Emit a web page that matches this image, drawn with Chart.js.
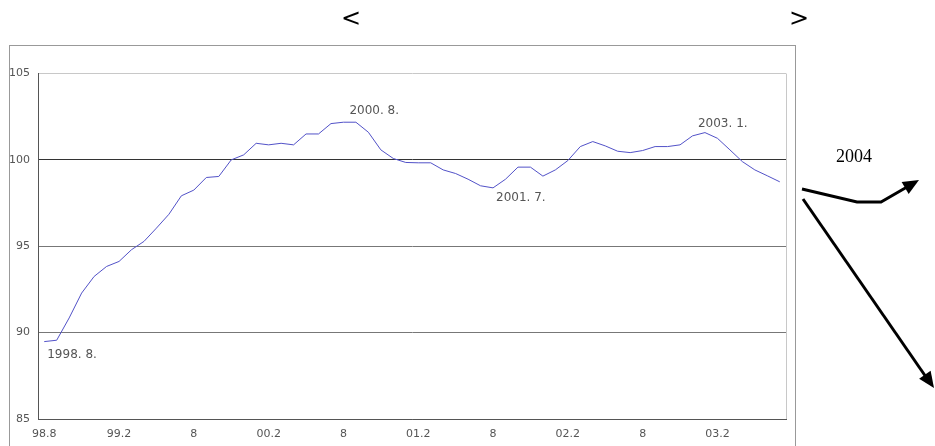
<!DOCTYPE html>
<html>
<head>
<meta charset="utf-8">
<script src="https://cdn.jsdelivr.net/npm/chart.js@4/dist/chart.umd.min.js"></script>
<style>
  html, body { margin: 0; padding: 0; background: #fff; }
  #wrap { width: 935px; height: 446px; position: relative; }
</style>
</head>
<body>
<div id="wrap"><canvas id="myChart"></canvas></div>
<script>
// monthly, 1998.8 - 2003.7
const months = [
  '1998.8','1998.9','1998.10','1998.11','1998.12',
  '1999.1','1999.2','1999.3','1999.4','1999.5','1999.6','1999.7','1999.8','1999.9','1999.10','1999.11','1999.12',
  '2000.1','2000.2','2000.3','2000.4','2000.5','2000.6','2000.7','2000.8','2000.9','2000.10','2000.11','2000.12',
  '2001.1','2001.2','2001.3','2001.4','2001.5','2001.6','2001.7','2001.8','2001.9','2001.10','2001.11','2001.12',
  '2002.1','2002.2','2002.3','2002.4','2002.5','2002.6','2002.7','2002.8','2002.9','2002.10','2002.11','2002.12',
  '2003.1','2003.2','2003.3','2003.4','2003.5','2003.6','2003.7'
];

const indexValues = [
  89.48, 89.56, 90.85, 92.29, 93.25,
  93.83, 94.12, 94.80, 95.28, 96.05, 96.85, 97.92, 98.25, 98.98, 99.04, 100.00, 100.29,
  100.96, 100.87, 100.96, 100.87, 101.50, 101.50, 102.10, 102.18, 102.18, 101.60, 100.58, 100.08,
  99.85, 99.83, 99.83, 99.42, 99.21, 98.88, 98.50, 98.38, 98.88, 99.58, 99.58, 99.06,
  99.42, 99.96, 100.77, 101.06, 100.81, 100.50, 100.42, 100.54, 100.77, 100.77, 100.87, 101.39,
  101.58, 101.25, 100.58, 99.90, 99.42, 99.08, 98.73
];

// x tick labels, one every 6 months
const xTickLabels = ['98.8', '99.2', '8', '00.2', '8', '01.2', '8', '02.2', '8', '03.2'];
const yTicks = [85, 90, 95, 100, 105];

// text notes at turning points: [month index, text, dx, dy]
const notes = [
  [0, '1998. 8.', 3, 13],
  [24, '2000. 8.', 6, -11],
  [36, '2001. 7.', 3, 10],
  [53, '2003. 1.', -7, -9]
];

const decor = {
  id: 'decor',
  beforeDraw(chart) {
    const c = chart.ctx;
    c.save();
    c.fillStyle = '#fff';
    c.fillRect(0, 0, chart.width, chart.height);
    // outer frame
    c.strokeStyle = '#999';
    c.lineWidth = 1;
    c.strokeRect(9.5, 45.5, 786, 500);
    // title brackets
    c.fillStyle = '#000';
    c.font = '24px "DejaVu Sans"';
    c.textAlign = 'center';
    c.textBaseline = 'middle';
    c.fillText('<', 351, 20);
    c.fillText('>', 799, 20);
    c.restore();
  },
  afterDraw(chart) {
    const c = chart.ctx;
    const a = chart.chartArea;
    const xs = chart.scales.x, ys = chart.scales.y;
    c.save();
    // right edge of plot
    c.strokeStyle = '#c8c8c8';
    c.lineWidth = 1;
    c.beginPath();
    c.moveTo(Math.round(a.right) + 0.5, a.top);
    c.lineTo(Math.round(a.right) + 0.5, a.bottom);
    c.stroke();

    // notes
    c.fillStyle = '#555';
    c.font = '12px "DejaVu Sans"';
    c.textBaseline = 'middle';
    c.textAlign = 'left';
    notes.forEach(n => {
      const px = xs.getPixelForValue(n[0]);
      const py = ys.getPixelForValue(indexValues[n[0]]);
      c.fillText(n[1], px + n[2], py + n[3]);
    });

    // 2004 outlook
    c.fillStyle = '#000';
    c.font = '18px "Liberation Serif"';
    c.textAlign = 'center';
    c.fillText('2004', 854, 157);

    c.strokeStyle = '#000';
    c.lineWidth = 3;
    c.lineJoin = 'miter';
    c.beginPath();
    c.moveTo(802, 189);
    c.lineTo(857, 202);
    c.lineTo(881, 202);
    c.lineTo(907, 187);
    c.stroke();
    arrowHead(c, 881, 202, 919, 180);

    c.beginPath();
    c.moveTo(803, 199);
    c.lineTo(926, 377);
    c.stroke();
    arrowHead(c, 803, 199, 934, 388);
    c.restore();
  }
};

function arrowHead(c, x0, y0, x1, y1) {
  const ang = Math.atan2(y1 - y0, x1 - x0);
  const len = 16, w = 7;
  c.fillStyle = '#000';
  c.beginPath();
  c.moveTo(x1, y1);
  c.lineTo(x1 - len * Math.cos(ang) + w * Math.sin(ang), y1 - len * Math.sin(ang) - w * Math.cos(ang));
  c.lineTo(x1 - len * Math.cos(ang) - w * Math.sin(ang), y1 - len * Math.sin(ang) + w * Math.cos(ang));
  c.closePath();
  c.fill();
}

const ctx = document.getElementById('myChart').getContext('2d');

const myChart = new Chart(ctx, {
  type: 'line',
  data: {
    labels: months,
    datasets: [{
      data: indexValues,
      borderColor: '#5252c8',
      borderWidth: 1,
      pointRadius: 0,
      tension: 0,
      fill: false
    }]
  },
  options: {
    responsive: true,
    maintainAspectRatio: false,
    animation: false,
    layout: { padding: { left: 0, top: 73.5, right: 149, bottom: 0 } },
    plugins: {
      legend: { display: false },
      title: { display: false },
      tooltip: { enabled: false }
    },
    scales: {
      x: {
        type: 'category',
        offset: true,
        grid: { display: false, drawTicks: false },
        border: { display: true, color: '#555', width: 1 },
        ticks: {
          autoSkip: false,
          maxRotation: 0,
          padding: 9,
          color: '#555',
          font: { family: 'DejaVu Sans', size: 11 },
          callback: (v, i) => (i % 6 === 0 ? xTickLabels[i / 6] : null)
        },
        afterFit: s => { s.height = 27; }
      },
      y: {
        min: yTicks[0],
        max: yTicks[yTicks.length - 1],
        afterBuildTicks: s => { s.ticks = yTicks.map(v => ({ value: v })); },
        grid: {
          drawTicks: false,
          color: c => (c.tick.value === 105 ? '#c8c8c8' : c.tick.value === 100 ? '#333' : '#777'),
          lineWidth: 1
        },
        border: { display: true, color: '#555', width: 1 },
        ticks: {
          padding: 8,
          color: '#555',
          font: { family: 'DejaVu Sans', size: 11 }
        },
        afterFit: s => { s.width = 38; }
      }
    }
  },
  plugins: [decor]
});
</script>
</body>
</html>
